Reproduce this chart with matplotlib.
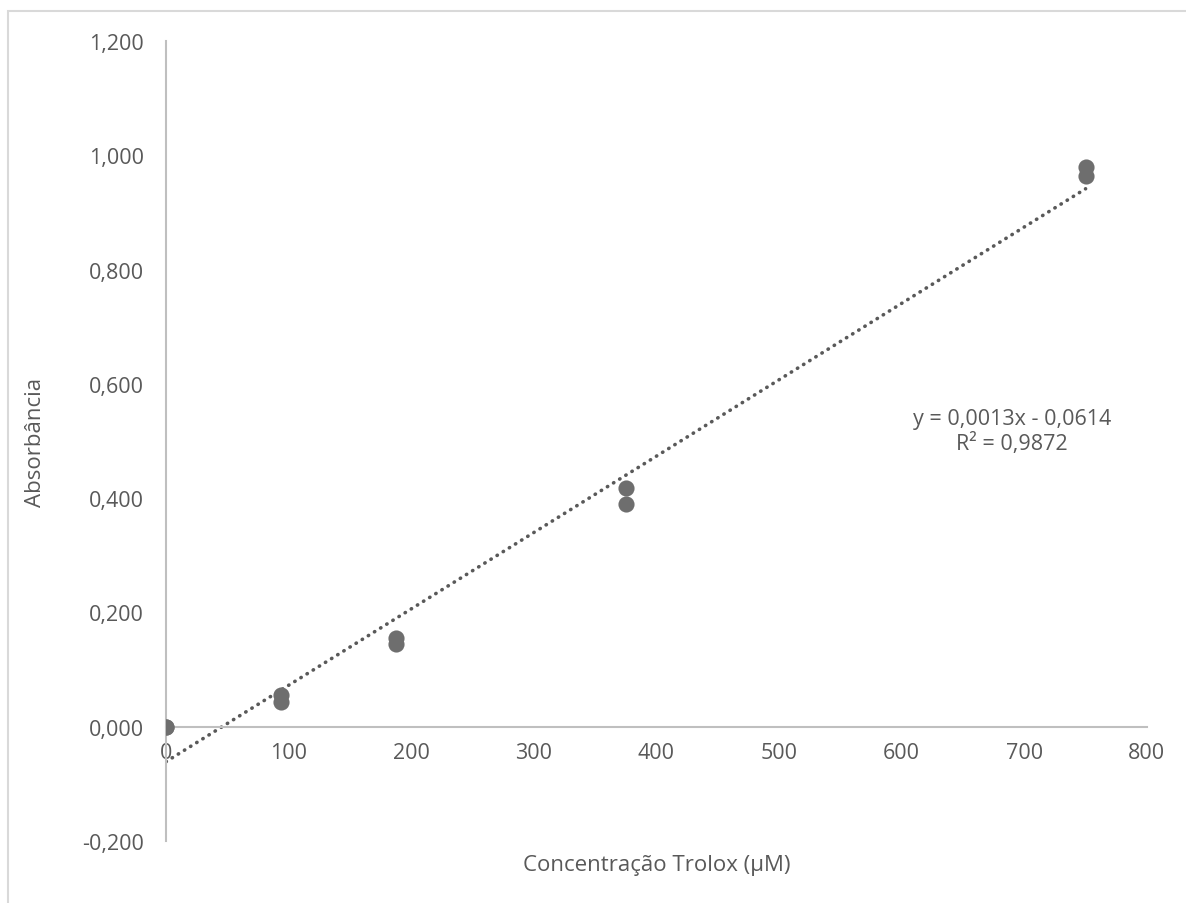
import numpy as np
import matplotlib
matplotlib.use("Agg")
import matplotlib.pyplot as plt
from matplotlib.patches import Rectangle
from matplotlib.ticker import FuncFormatter

# Curva de calibração do Trolox (duplicatas)
concentracao = [0, 0, 93.75, 93.75, 187.5, 187.5, 375, 375, 750, 750]
absorbancia = [0.000, 0.000, 0.055, 0.043, 0.155, 0.145, 0.417, 0.390, 0.980, 0.963]
equacao = "y = 0,0013x - 0,0614"
r2 = "R² = 0,9872"

cor_texto = "#595959"
cor_ponto = "#6e6e6e"
cor_eixo = "#bfbfbf"

plt.rcParams["font.family"] = ["Open Sans", "DejaVu Sans"]

fig = plt.figure(figsize=(11.86, 9.04), dpi=100)
ax = fig.add_axes([0.140, 0.0686, 0.827, 0.8849])

# borda do gráfico
fig.patches.append(Rectangle((8 / 1186, -0.1), 1.2, 1.1 - 12 / 904,
                             transform=fig.transFigure, fill=False,
                             edgecolor="#d9d9d9", linewidth=1.5))

x = np.array(concentracao)
y = np.array(absorbancia)

# linha de tendência linear
a, b = np.polyfit(x, y, 1)
xt = np.array([0, 750])
ax.plot(xt, a * xt + b, color="#595959", linewidth=2.6,
        linestyle=(0, (0.1, 1.9)), dash_capstyle="round", zorder=2)

ax.scatter(x, y, s=135, color=cor_ponto, zorder=3, linewidths=0)

ax.set_xlim(0, 800)
ax.set_ylim(-0.2, 1.2)
ax.set_xticks(range(0, 801, 100))
ax.set_yticks(np.arange(-0.2, 1.21, 0.2))
ax.yaxis.set_major_formatter(FuncFormatter(lambda v, p: f"{v:.3f}".replace(".", ",").replace("-0,000", "0,000")))

for lado in ["top", "right"]:
    ax.spines[lado].set_visible(False)
ax.spines["bottom"].set_position(("data", 0))
ax.spines["left"].set_position(("data", 0))
for lado in ["bottom", "left"]:
    ax.spines[lado].set_color(cor_eixo)
    ax.spines[lado].set_linewidth(1.5)

ax.tick_params(axis="both", length=0, labelsize=15.5, labelcolor=cor_texto)
ax.tick_params(axis="y", pad=16)
ax.tick_params(axis="x", pad=11)

ax.set_xlabel("Concentração Trolox (µM)", fontsize=16, color=cor_texto)
ax.set_ylabel("Absorbância", fontsize=16, color=cor_texto)
ax.xaxis.set_label_coords(0.5, -0.03)
ax.yaxis.set_label_coords(-0.133, 0.5)
ax.xaxis.label.set_va("center")
ax.yaxis.label.set_va("center")

ax.text(690, 0.539, equacao, fontsize=15.5, color=cor_texto, ha="center", va="center")
ax.text(690, 0.496, r2, fontsize=15.5, color=cor_texto, ha="center", va="center")

fig.savefig("out.png", dpi=100, facecolor="white")
